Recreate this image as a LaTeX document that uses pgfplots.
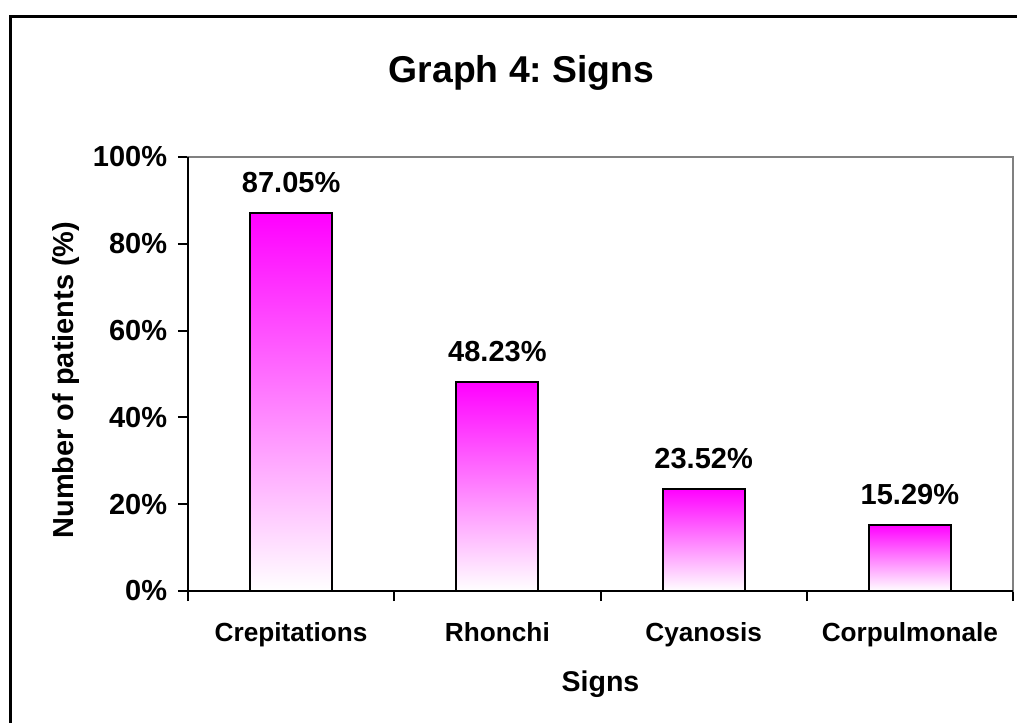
\documentclass[border=0pt]{standalone}
\usepackage{pgfplots}
\pgfplotsset{compat=1.18}
\usepackage{fontspec}
\setmainfont{Liberation Sans}
\frenchspacing

\begin{document}
\begin{tikzpicture}[x=0.75pt,y=0.75pt]
  % page area and the outer frame (left and top edges)
  \useasboundingbox (0,0) rectangle (1017,722);
  \draw[black, line width=2.25pt] (10,-5) -- (10,705) -- (1025,705);

  % chart title
  \node[anchor=base, font=\bfseries\fontsize{28pt}{32pt}\selectfont, inner sep=0pt]
    at (521.5,639) {Graph 4: Signs};

  \begin{axis}[
    at={(141pt,98.25pt)}, anchor=south west,
    scale only axis,
    width=618.75pt, height=325.5pt,
    xmin=-0.5, xmax=3.5,
    ymin=0, ymax=100,
    clip=false,
    axis line style={draw=gray, line width=1.5pt},
    tick style={black, line width=1.5pt},
    tick align=outside,
    major tick length=7.5pt,
    minor tick length=7.5pt,
    xtick pos=left, ytick pos=left,
    xtick={0,1,2,3},
    xticklabels={Crepitations, Rhonchi, Cyanosis, Corpulmonale},
    major x tick style={draw=none},
    minor xtick={-0.5,0.5,1.5,2.5,3.5},
    ytick={0,20,40,60,80,100},
    yticklabel={\pgfmathprintnumber{\tick}\%},
    /pgf/number format/assume math mode=true,
    xticklabel style={font=\bfseries\fontsize{19.65pt}{22pt}\selectfont, anchor=base, yshift=-30pt},
    yticklabel style={font=\bfseries\fontsize{21.75pt}{24pt}\selectfont, anchor=east, inner sep=0pt, xshift=-8pt},
    xlabel={Signs},
    ylabel={Number of patients (\%)},
    every axis x label/.style={at={([yshift=-75pt]rel axis cs:0.5,0)}, anchor=base,
      inner sep=0pt, font=\bfseries\fontsize{21.4pt}{24pt}\selectfont},
    every axis y label/.style={at={([xshift=-81pt]rel axis cs:0,0.486)}, rotate=90, anchor=south,
      inner sep=0pt, font=\bfseries\fontsize{21.7pt}{24pt}\selectfont},
    ybar, bar width=61.5pt, bar shift=0pt,
    nodes near coords={\pgfmathprintnumber[fixed,fixed zerofill,precision=2]{\pgfplotspointmeta}\%},
    every node near coord/.append style={font=\bfseries\fontsize{21.75pt}{24pt}\selectfont,
      anchor=south, inner sep=0pt, yshift=14.25pt, black},
    bar style/.style={draw=black, line width=1.5pt, top color=magenta, bottom color=white},
  ]
    % one plot per sign so that each bar gets its own gradient
    \addplot[bar style] coordinates {(0,87.05)};
    \addplot[bar style] coordinates {(1,48.23)};
    \addplot[bar style] coordinates {(2,23.52)};
    \addplot[bar style] coordinates {(3,15.29)};
    % black axis lines on the left and bottom over the grey frame
    \draw[black, line width=1.5pt] (rel axis cs:0,1) -- (rel axis cs:0,0) -- (rel axis cs:1,0);
  \end{axis}
\end{tikzpicture}
\end{document}
